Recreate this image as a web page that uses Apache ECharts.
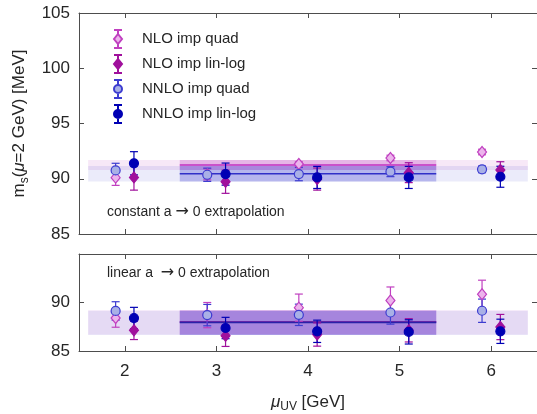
<!DOCTYPE html>
<html>
<head>
<meta charset="utf-8">
<script src="https://cdn.jsdelivr.net/npm/echarts@6/dist/echarts.min.js"></script>
<style>
  html, body { margin: 0; padding: 0; background: #fff; }
  #chart { width: 537px; height: 414px; }
</style>
</head>
<body>
<div id="chart"></div>
<script>
// UV matching scales (GeV)
const muUV = [2, 3, 4, 5, 6];
const quadShift = -0.1;   // quad points sit left of the tick
const linShift = 0.1;     // lin-log points sit right of the tick

// constant a -> 0 extrapolation (MeV)
const nloQuadConst = [90.1, 90.4, 91.33, 91.88, 92.42];
const nloQuadConstErr = [0.7, 0.5, 0.2, 0.25, 0.25];
const nloLinConst = [90.12, 89.73, 89.97, 90.55, 90.79];
const nloLinConstErr = [1.15, 1.05, 1.0, 0.9, 0.75];
const nnloQuadConst = [90.75, 90.36, 90.42, 90.64, 90.85];
const nnloQuadConstErr = [0.65, 0.6, 0.6, 0.45, 0.3];
const nnloLinConst = [91.4, 90.42, 90.12, 90.12, 90.18];
const nnloLinConstErr = [1.05, 1.0, 1.0, 1.0, 0.95];

// linear a -> 0 extrapolation (MeV)
const nloQuadLin = [88.4, 88.7, 89.47, 90.2, 90.85];
const nloQuadLinErr = [0.95, 1.3, 1.4, 1.4, 1.45];
const nloLinLin = [87.13, 86.57, 86.7, 87.13, 87.47];
const nloLinLinErr = [0.95, 1.1, 1.2, 1.2, 1.3];
const nnloQuadLin = [89.13, 88.7, 88.73, 88.97, 89.15];
const nnloQuadLinErr = [0.95, 1.1, 1.1, 1.2, 1.2];
const nnloLinLin = [88.4, 87.37, 87.03, 86.97, 87.03];
const nnloLinLinErr = [1.1, 1.1, 1.15, 1.25, 1.25];

// averaged results: [centre, lower, upper]
const constFitNLO = [91.25, 90.8, 91.7];
const constFitNNLO = [90.45, 89.75, 91.15];
const linFitNLO = [88.0, 86.7, 89.2];
const linFitNNLO = [87.95, 86.65, 89.15];
const fitRange = [2.6, 5.4];     // scales entering the average
const fullRange = [1.6, 6.4];    // systematic spread band

const yTicksTop = [85, 105, 5];
const yTicksBottom = [85, 95, 5];
const xRange = [1.5, 6.5];

const MAG = '#c040c0', MAG_DARK = '#a0109c', BLUE = '#3c3cd0', NAVY = '#0000b4';
const AXIS = '#4d4d4d', TXT = '#262626';

// legend glyphs: marker with its error bar
const legendDiamond = 'path://M4,0 L4,4 M0,0 L8,0 M4,14 L4,18 M0,18 L8,18 M4,4 L8,9 L4,14 L0,9 Z';
const legendCircle = 'path://M4,0 L4,5 M0,0 L8,0 M4,13 L4,18 M0,18 L8,18 M0,9 A4,4 0 1 1 8,9 A4,4 0 1 1 0,9 Z';

const sets = [
  { name: 'NLO imp quad', shift: quadShift, symbol: 'diamond', size: [9, 11], fill: '#ecb4ec', edge: MAG, bar: MAG,
    icon: legendDiamond, top: [nloQuadConst, nloQuadConstErr], bottom: [nloQuadLin, nloQuadLinErr] },
  { name: 'NLO imp lin-log', shift: linShift, symbol: 'diamond', size: [9, 11], fill: MAG_DARK, edge: MAG_DARK, bar: MAG_DARK,
    icon: legendDiamond, top: [nloLinConst, nloLinConstErr], bottom: [nloLinLin, nloLinLinErr] },
  { name: 'NNLO imp quad', shift: quadShift, symbol: 'circle', size: 9, fill: '#a9b0e6', edge: BLUE, bar: BLUE,
    icon: legendCircle, top: [nnloQuadConst, nnloQuadConstErr], bottom: [nnloQuadLin, nnloQuadLinErr] },
  { name: 'NNLO imp lin-log', shift: linShift, symbol: 'circle', size: 9, fill: NAVY, edge: NAVY, bar: NAVY,
    icon: legendCircle, top: [nnloLinConst, nnloLinConstErr], bottom: [nnloLinLin, nnloLinLinErr] }
];

// each panel owns two x axes and two y axes (main + mirrored box side)
const axisOf = panel => panel * 2;

function errorBars(name, color, panel, vals, errs, shift) {
  return {
    type: 'custom', name: name + ' (err)', xAxisIndex: axisOf(panel), yAxisIndex: axisOf(panel),
    data: muUV.map((m, i) => [m + shift, vals[i], errs[i]]),
    encode: { x: 0, y: 1 },
    silent: true, z: 3,
    renderItem: function (params, api) {
      const x = api.value(0), y = api.value(1), e = api.value(2);
      const hi = api.coord([x, y + e]), lo = api.coord([x, y - e]);
      const st = { stroke: color, lineWidth: 1.2 };
      return { type: 'group', children: [
        { type: 'line', shape: { x1: hi[0], y1: hi[1], x2: lo[0], y2: lo[1] }, style: st },
        { type: 'line', shape: { x1: hi[0] - 4, y1: hi[1], x2: hi[0] + 4, y2: hi[1] }, style: st },
        { type: 'line', shape: { x1: lo[0] - 4, y1: lo[1], x2: lo[0] + 4, y2: lo[1] }, style: st }
      ]};
    }
  };
}

function markers(s, panel, vals) {
  return {
    type: 'scatter', name: s.name, xAxisIndex: axisOf(panel), yAxisIndex: axisOf(panel),
    data: muUV.map((m, i) => [m + s.shift, vals[i]]),
    symbol: s.symbol, symbolSize: s.size, z: 3,
    itemStyle: { color: s.fill, borderColor: s.edge, borderWidth: 1.2, opacity: 1 },
    emphasis: { disabled: true }
  };
}

// shaded band with its central value line, as a custom series
function band(panel, fit, range, color, alpha, lineColor) {
  return {
    type: 'custom', xAxisIndex: axisOf(panel), yAxisIndex: axisOf(panel), silent: true, z: 1,
    data: [[range[0], range[1], fit[0], fit[1], fit[2]]],
    encode: { x: [0, 1], y: [3, 4] },
    renderItem: function (params, api) {
      const a = api.coord([api.value(0), api.value(4)]);
      const b = api.coord([api.value(1), api.value(3)]);
      const c0 = api.coord([api.value(0), api.value(2)]);
      const c1 = api.coord([api.value(1), api.value(2)]);
      const kids = [{ type: 'rect', shape: { x: a[0], y: a[1], width: b[0] - a[0], height: b[1] - a[1] },
        style: { fill: color, opacity: alpha } }];
      if (lineColor) kids.push({ type: 'line', shape: { x1: c0[0], y1: c0[1], x2: c1[0], y2: c1[1] },
        style: { stroke: lineColor, lineWidth: 1.6 } });
      return { type: 'group', children: kids };
    }
  };
}

const series = [
  band(0, constFitNLO, fullRange, MAG, 0.12, null),
  band(0, constFitNNLO, fullRange, BLUE, 0.1, null),
  band(0, constFitNLO, fitRange, MAG, 0.3, null),
  band(0, constFitNNLO, fitRange, BLUE, 0.3, null),
  band(0, constFitNLO, fitRange, MAG, 0, '#c030c0'),
  band(0, constFitNNLO, fitRange, BLUE, 0, '#3030c8'),
  band(1, linFitNLO, fullRange, MAG, 0.1, null),
  band(1, linFitNNLO, fullRange, BLUE, 0.1, null),
  band(1, linFitNLO, fitRange, MAG, 0.32, null),
  band(1, linFitNNLO, fitRange, BLUE, 0.32, null),
  band(1, linFitNLO, fitRange, MAG, 0, '#9a2aa6'),
  band(1, linFitNNLO, fitRange, BLUE, 0, '#2a22a8')
];
sets.forEach(s => {
  series.push(errorBars(s.name, s.bar, 0, s.top[0], s.top[1], s.shift));
  series.push(markers(s, 0, s.top[0]));
});
sets.forEach(s => {
  series.push(errorBars(s.name, s.bar, 1, s.bottom[0], s.bottom[1], s.shift));
  series.push(markers(s, 1, s.bottom[0]));
});

const tickIn = { show: true, inside: true, length: 5, lineStyle: { color: AXIS, width: 1 } };
const lineSt = { show: true, lineStyle: { color: AXIS, width: 1 } };
const intLabel = v => (Math.abs(v - Math.round(v)) < 1e-6 ? String(Math.round(v)) : '');

function xAxes(grid, withLabels) {
  return [
    { type: 'value', gridIndex: grid, position: 'bottom', min: xRange[0], max: xRange[1], splitNumber: 5,
      axisLine: lineSt, axisTick: tickIn, splitLine: { show: false },
      axisLabel: withLabels ? { show: true, color: TXT, fontSize: 17, fontFamily: 'Liberation Sans', margin: 12, formatter: intLabel,
        showMinLabel: false, showMaxLabel: false } : { show: false },
      name: withLabels ? '{mu|μ}{sub|UV}{t| [GeV]}' : '', nameLocation: 'middle', nameGap: 40,
      nameTextStyle: { color: TXT, fontSize: 17, fontFamily: 'Liberation Sans',
        rich: { mu: { fontSize: 17, fontStyle: 'italic', fontFamily: 'Liberation Sans', color: TXT, lineHeight: 22 },
                sub: { fontSize: 12, fontFamily: 'Liberation Sans', color: TXT, verticalAlign: 'bottom', lineHeight: 12 },
                t: { fontSize: 17, fontFamily: 'Liberation Sans', color: TXT, lineHeight: 22 } } } },
    { type: 'value', gridIndex: grid, position: 'top', min: xRange[0], max: xRange[1], splitNumber: 5,
      axisLine: lineSt, axisTick: tickIn, axisLabel: { show: false }, splitLine: { show: false } }
  ];
}

function yAxes(grid, t, hideMax, name) {
  return [
    { type: 'value', gridIndex: grid, position: 'left', min: t[0], max: t[1], interval: t[2],
      axisLine: lineSt, axisTick: tickIn, splitLine: { show: false },
      axisLabel: { color: TXT, fontSize: 17, fontFamily: 'Liberation Sans', margin: 9,
        formatter: v => (hideMax && v === t[1]) ? '' : String(v) },
      name: name || '', nameLocation: 'middle', nameGap: 47, nameRotate: 90,
      nameTextStyle: { color: TXT, fontSize: 17, fontFamily: 'Liberation Sans',
        rich: { m: { fontSize: 17, fontFamily: 'Liberation Sans', color: TXT, lineHeight: 22 },
                sub: { fontSize: 12, fontFamily: 'Liberation Sans', color: TXT, verticalAlign: 'bottom', lineHeight: 12 },
                mu: { fontSize: 17, fontStyle: 'italic', fontFamily: 'Liberation Sans', color: TXT, lineHeight: 22 } } } },
    { type: 'value', gridIndex: grid, position: 'right', min: t[0], max: t[1], interval: t[2],
      axisLine: lineSt, axisTick: tickIn, axisLabel: { show: false }, splitLine: { show: false } }
  ];
}

const noteRich = {
  t: { fontSize: 14, fontFamily: 'Liberation Sans', fill: TXT, color: TXT },
  arr: { fontSize: 16, fontFamily: 'DejaVu Sans', fill: TXT, color: TXT }
};

const chart = echarts.init(document.getElementById('chart'), null, { renderer: 'canvas' });
chart.setOption({
  animation: false,
  backgroundColor: '#fff',
  grid: [
    { left: 79, right: -1, top: 13, height: 221 },
    { left: 79, right: -1, top: 254, height: 99 }
  ],
  xAxis: [...xAxes(0, false), ...xAxes(1, true)],
  yAxis: [...yAxes(0, yTicksTop, false, '{m|m}{sub|s}{m|(}{mu|μ}{m|=2 GeV) [MeV]}'), ...yAxes(1, yTicksBottom, true, '')],
  legend: {
    orient: 'vertical', left: 113, top: 29, padding: 0, itemGap: 5,
    itemWidth: 8, itemHeight: 18, selectedMode: false,
    textStyle: { color: TXT, fontSize: 15, fontFamily: 'Liberation Sans', padding: [0, 0, 0, 15] },
    data: sets.map(s => ({ name: s.name, icon: s.icon }))
  },
  graphic: [
    { type: 'text', left: 107, top: 204, style: { text: '{t|constant a }{arr|\u2192}{t| 0 extrapolation}', rich: noteRich } },
    { type: 'text', left: 107, top: 265, style: { text: '{t|linear a  }{arr|\u2192}{t| 0 extrapolation}', rich: noteRich } }
  ],
  series: series
});
</script>
</body>
</html>
